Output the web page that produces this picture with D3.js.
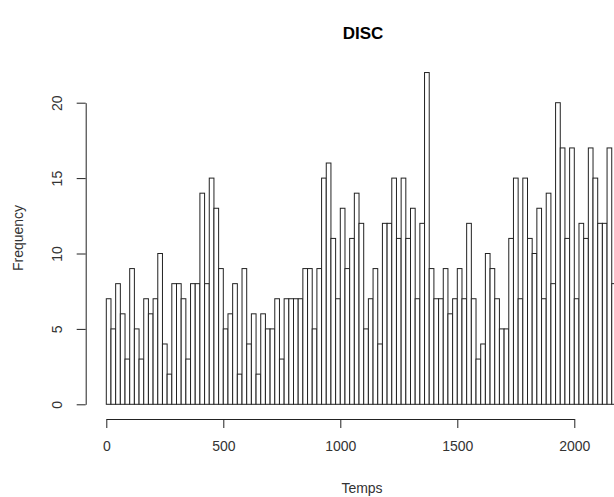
<!DOCTYPE html>
<html>
<head>
<meta charset="utf-8">
<script src="https://cdn.jsdelivr.net/npm/d3@7"></script>
<style>
  body { margin: 0; background: #fff; }
  text { font-family: "Liberation Sans", Arial, sans-serif; }
</style>
</head>
<body>
<div id="chart"></div>
<script>
// histogram of Temps, bins of 20 starting at 0
var binWidth = 20;
var binStarts = d3.range(0, 109).map(function(i){ return i * binWidth; });
var counts = [7,5,8,6,3,9,5,3,7,6,7,10,4,2,8,8,7,3,8,8,
              14,8,15,13,9,5,6,8,2,9,4,6,2,6,5,5,7,3,7,7,
              7,7,9,9,5,9,15,16,11,7,13,9,11,14,12,5,7,9,4,12,
              12,15,11,15,11,13,7,12,22,9,7,7,9,6,7,9,7,12,7,3,
              4,10,9,7,5,5,11,15,7,15,11,10,13,7,14,8,20,17,11,17,
              7,12,11,17,15,12,12,17,8];
var xTicks = [0, 500, 1000, 1500, 2000];
var yTicks = [0, 5, 10, 15, 20];

var width = 614, height = 497;

var svg = d3.select("#chart")
  .append("svg")
    .attr("width", width)
    .attr("height", height);

// scales
var x = d3.scaleLinear()
  .domain([0, 2000])
  .range([106.3, 574.3]);

var y = d3.scaleLinear()
  .domain([0, 20])
  .range([404.3, 102.7]);

// bars
svg.selectAll("rect.bar")
  .data(binStarts)
  .enter()
  .append("rect")
    .attr("class", "bar")
    .attr("x", function(d){ return x(d); })
    .attr("y", function(d, i){ return y(counts[i]); })
    .attr("width", function(d){ return x(d + binWidth) - x(d); })
    .attr("height", function(d, i){ return y(0) - y(counts[i]); })
    .attr("fill", "#fff")
    .attr("stroke", "#222")
    .attr("stroke-width", 1);

// X axis
var xAxis = svg.append("g")
  .attr("transform", "translate(0,419)")
  .call(d3.axisBottom(x).tickValues(xTicks).tickFormat(d3.format("d"))
    .tickSize(9).tickSizeOuter(0).tickPadding(13));

// Y axis
var yAxis = svg.append("g")
  .attr("transform", "translate(85.7,0)")
  .call(d3.axisLeft(y).tickValues(yTicks).tickSize(9).tickSizeOuter(0));

xAxis.selectAll("text")
  .style("font-size", "14px")
  .attr("fill", "#333");

yAxis.selectAll(".tick text")
  .attr("x", 0)
  .attr("dy", 0)
  .attr("transform", "translate(-29,0) rotate(-90)")
  .style("text-anchor", "middle")
  .attr("dominant-baseline", "central")
  .style("font-size", "14px")
  .attr("fill", "#333");

svg.selectAll(".domain, .tick line")
  .attr("stroke", "#222");

// titles
svg.append("text")
  .attr("x", 363)
  .attr("y", 39)
  .style("text-anchor", "middle")
  .style("font-weight", "bold")
  .style("font-size", "17px")
  .text("DISC");

svg.append("text")
  .attr("x", 362)
  .attr("y", 493)
  .style("text-anchor", "middle")
  .style("font-size", "14px")
  .attr("fill", "#333")
  .text("Temps");

svg.append("text")
  .attr("transform", "translate(18,238) rotate(-90)")
  .style("text-anchor", "middle")
  .attr("dominant-baseline", "central")
  .style("font-size", "14px")
  .attr("fill", "#333")
  .text("Frequency");
</script>
</body>
</html>
